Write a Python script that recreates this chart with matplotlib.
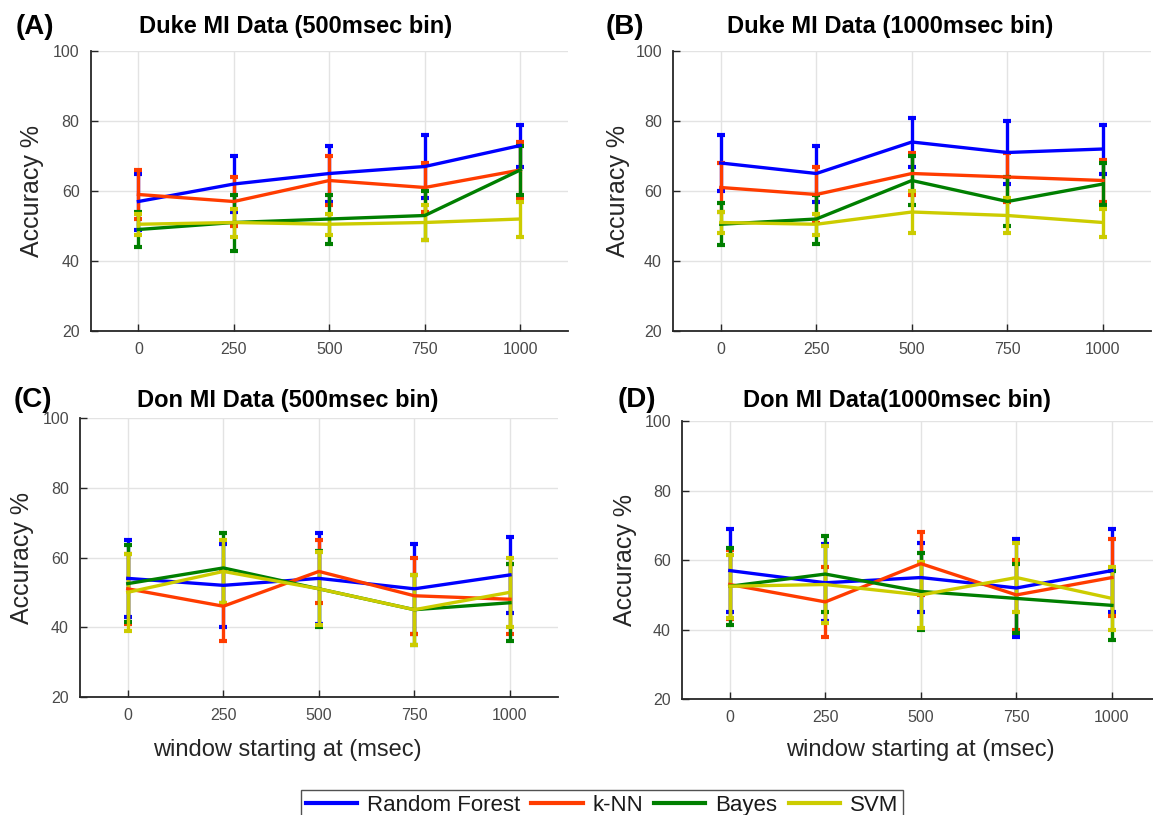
import matplotlib
matplotlib.use("Agg")
import matplotlib.pyplot as plt
import numpy as np

plt.rcParams['font.family'] = ['Liberation Sans', 'DejaVu Sans']

# window start positions (msec)
window_start = [0, 250, 500, 750, 1000]
x_tick_labels = ['0', '250', '500', '750', '1000']
y_ticks = [20, 40, 60, 80, 100]

classifiers = ['Random Forest', 'k-NN', 'Bayes', 'SVM']
colors = ['#0000ff', '#ff3c00', '#007f00', '#cccc00']

# Duke MI, 500 msec bin
duke500_rf = [57, 62, 65, 67, 73]
duke500_rf_err = [8, 8, 8, 9, 6]
duke500_knn = [59, 57, 63, 61, 66]
duke500_knn_err = [7, 7, 7, 7, 8]
duke500_bayes = [49, 51, 52, 53, 66]
duke500_bayes_err = [5, 8, 7, 7, 7]
duke500_svm = [50.5, 51, 50.5, 51, 52]
duke500_svm_err = [3, 4, 3, 5, 5]

# Duke MI, 1000 msec bin
duke1000_rf = [68, 65, 74, 71, 72]
duke1000_rf_err = [8, 8, 7, 9, 7]
duke1000_knn = [61, 59, 65, 64, 63]
duke1000_knn_err = [7, 8, 6, 7, 6]
duke1000_bayes = [50.5, 52, 63, 57, 62]
duke1000_bayes_err = [6, 7, 7, 7, 6]
duke1000_svm = [51, 50.5, 54, 53, 51]
duke1000_svm_err = [3, 3, 6, 5, 4]

# Don MI, 500 msec bin
don500_rf = [54, 52, 54, 51, 55]
don500_rf_err = [11, 12, 13, 13, 11]
don500_knn = [51, 46, 56, 49, 48]
don500_knn_err = [10, 10, 9, 11, 10]
don500_bayes = [52.5, 57, 51, 45, 47]
don500_bayes_err = [11, 10, 11, 10, 11]
don500_svm = [50, 56, 51, 45, 50]
don500_svm_err = [11, 9, 10.5, 10, 10]

# Don MI, 1000 msec bin
don1000_rf = [57, 53.5, 55, 52, 57]
don1000_rf_err = [12, 11, 10, 14, 12]
don1000_knn = [53, 48, 59, 50, 55]
don1000_knn_err = [10, 10, 9, 10, 11]
don1000_bayes = [52.5, 56, 51, 49, 47]
don1000_bayes_err = [11, 11, 11, 10, 10]
don1000_svm = [52.5, 53, 50, 55, 49]
don1000_svm_err = [9, 11, 9.5, 10, 9]

panels = [
    dict(letter='(A)', title='Duke MI Data (500msec bin)',
         means=[duke500_rf, duke500_knn, duke500_bayes, duke500_svm],
         errs=[duke500_rf_err, duke500_knn_err, duke500_bayes_err, duke500_svm_err],
         rect=[90.7, 51, 477.3, 280], title_xy=(296, 27), letter_xy=(35, 27),
         ylab_x=-0.123, xlabel=None),
    dict(letter='(B)', title='Duke MI Data (1000msec bin)',
         means=[duke1000_rf, duke1000_knn, duke1000_bayes, duke1000_svm],
         errs=[duke1000_rf_err, duke1000_knn_err, duke1000_bayes_err, duke1000_svm_err],
         rect=[673, 51, 477.75, 280], title_xy=(890, 27), letter_xy=(625, 27),
         ylab_x=-0.115, xlabel=None),
    dict(letter='(C)', title='Don MI Data (500msec bin)',
         means=[don500_rf, don500_knn, don500_bayes, don500_svm],
         errs=[don500_rf_err, don500_knn_err, don500_bayes_err, don500_svm_err],
         rect=[80, 418.3, 477.75, 278.4], title_xy=(288, 400), letter_xy=(33, 400),
         ylab_x=-0.121, xlabel=(287, 750)),
    dict(letter='(D)', title='Don MI Data(1000msec bin)',
         means=[don1000_rf, don1000_knn, don1000_bayes, don1000_svm],
         errs=[don1000_rf_err, don1000_knn_err, don1000_bayes_err, don1000_svm_err],
         rect=[682, 421, 477.75, 278.3], title_xy=(897, 400), letter_xy=(637, 400),
         ylab_x=-0.119, xlabel=(920, 750)),
]

W, H = 1153, 815
fig = plt.figure(figsize=(W / 100, H / 100), dpi=100)

spine_col = '#262626'
tick_col = '#4a4a4a'
handles = []

for p in panels:
    l, t, w, h = p['rect']
    ax = fig.add_axes([l / W, 1 - (t + h) / H, w / W, h / H])
    ax.set_xlim(-125, 1125)
    ax.set_ylim(20, 100)
    ax.set_xticks(window_start)
    ax.set_xticklabels(x_tick_labels)
    ax.set_yticks(y_ticks)
    ax.grid(True, color='#e3e3e3', linewidth=1.0)
    ax.set_axisbelow(True)
    for side in ['top', 'right']:
        ax.spines[side].set_visible(False)
    for side in ['left', 'bottom']:
        ax.spines[side].set_color(spine_col)
        ax.spines[side].set_linewidth(1.3)
    ax.tick_params(direction='in', length=5, width=1.0, color=spine_col,
                   labelsize=11.5, labelcolor=tick_col, pad=8)
    ax.set_ylabel('Accuracy %', fontsize=18, color=spine_col, va='center')
    ax.yaxis.set_label_coords(p['ylab_x'], 0.5)

    handles = []
    for name, col, m, e in zip(classifiers, colors, p['means'], p['errs']):
        cont = ax.errorbar(window_start, m, yerr=e, color=col, linewidth=2.4,
                           elinewidth=2.4, capsize=3, capthick=3, label=name,
                           clip_on=False)
        handles.append(cont.lines[0])

    fig.text(p['title_xy'][0] / W, 1 - p['title_xy'][1] / H, p['title'],
             ha='center', va='center', fontsize=17, fontweight='bold', color='black')
    fig.text(p['letter_xy'][0] / W, 1 - p['letter_xy'][1] / H, p['letter'],
             ha='center', va='center', fontsize=20, fontweight='bold', color='black')
    if p['xlabel'] is not None:
        fig.text(p['xlabel'][0] / W, 1 - p['xlabel'][1] / H, 'window starting at (msec)',
                 ha='center', va='center', fontsize=17, color=spine_col)

leg = fig.legend(handles, classifiers, loc='upper center', ncol=4,
                 bbox_to_anchor=(602 / W, 1 - 779 / H), fontsize=16,
                 handlelength=2.3, handletextpad=0.45, columnspacing=0.5,
                 borderpad=0.2, frameon=True, fancybox=False)
leg.get_frame().set_edgecolor(spine_col)
leg.get_frame().set_linewidth(1.0)
for line in leg.get_lines():
    line.set_linewidth(3)
for txt in leg.get_texts():
    txt.set_color('#1a1a1a')

fig.savefig('out.png', dpi=100)
